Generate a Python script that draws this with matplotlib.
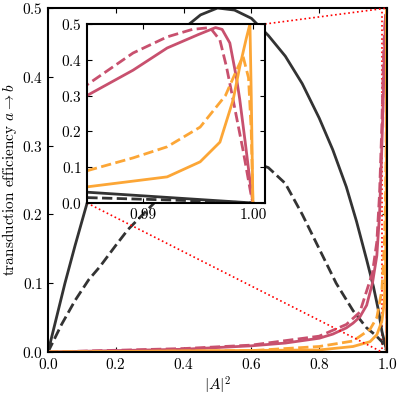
import matplotlib
matplotlib.use("Agg")
import matplotlib.pyplot as plt
from mpl_toolkits.axes_grid1.inset_locator import mark_inset

plt.rcParams['font.family'] = ['cmr10', 'DejaVu Serif']
plt.rcParams['mathtext.fontset'] = 'cm'
plt.rcParams['axes.formatter.use_mathtext'] = True
plt.rcParams['font.size'] = 11

bs_x = [0, .025, .05, .08, .115, .15, .2, .25, .3, .35, .4, .45, .5, .55, .6, .65, .7, .75, .8, .84, .88, .91, .94, .96, .975, .985, .995, 1.0]
bs_y = [0, .05, .1, .155, .216, .26, .315, .36, .40, .44, .47, .49, .5, .497, .485, .46, .43, .39, .34, .294, .24, .19, .134, .095, .06, .03, .01, 0]
bd_x = [0, .04, .08, .12, .153, .2, .236, .3, .35, .4, .45, .5, .55, .6, .65, .7, .75, .8, .85, .9, .94, .965, .985, .995, 1.0]
bd_y = [0, .04, .075, .105, .124, .155, .178, .21, .235, .252, .266, .275, .279, .277, .268, .245, .2, .15, .1, .06, .035, .025, .015, .006, 0]
ps_x = [0, .2, .4, .6, .7, .8, .84, .88, .9, .92, .94, .957, .97, .978, .9849, .9891, .9922, .995, .9966, .9972, .9979, .9985, .9988, .9993, .9997, 1.0]
ps_y = [0, .002, .004, .009, .013, .02, .026, .035, .042, .051, .068, .1, .14, .2, .30, .371, .433, .47, .49, .485, .447, .35, .29, .17, .07, 0]
pd_x = [0, .4, .6, .8, .88, .92, .957, .97, .978, .9849, .9891, .9922, .9945, .9961, .997, .9976, .9982, .9991, .99985, 1.0]
pd_y = [0, .005, .01, .023, .04, .058, .115, .16, .23, .33, .419, .464, .485, .49, .455, .38, .288, .148, .02, 0]
od_x = [0, .6, .8, .9, .95, .97, .9849, .9891, .9922, .9952, .9975, .9985, .9991, .9996, .99985, 1.0]
od_y = [0, .002, .008, .016, .033, .05, .09, .126, .157, .212, .3, .37, .41, .35, .2, 0]
os_x = [0, .8, .9, .95, .97, .9849, .9922, .9952, .997, .9982, .9988, .9994, .99973, .99985, 1.0]
os_y = [0, .003, .008, .015, .025, .045, .073, .115, .17, .288, .38, .46, .5, .3, 0]

black = '#333333'; pink = '#c8506e'; orange = '#fca636'
series = [(bs_x, bs_y, black, '-'), (bd_x, bd_y, black, '--'),
          (ps_x, ps_y, pink, '-'), (pd_x, pd_y, pink, '--'),
          (os_x, os_y, orange, '-'), (od_x, od_y, orange, '--')]

fig = plt.figure(figsize=(4, 4), dpi=100)
ax = fig.add_axes([0.12, 0.12, 0.8475, 0.86])
for x, y, c, ls in series:
    ax.plot(x, y, color=c, ls=ls, lw=2)
ax.set_xlim(0, 1)
ax.set_ylim(0, 0.5)
ax.set_xlabel(r'$|A|^2$', labelpad=2)
ax.set_ylabel(r'transduction efficiency $a\to b$', labelpad=2)
ax.tick_params(direction='in', top=True, right=True)

axins = fig.add_axes([0.2175, 0.4925, 0.445, 0.4475])
for x, y, c, ls in series:
    axins.plot(x, y, color=c, ls=ls, lw=2)
axins.set_xlim(0.98491, 1.0011)
axins.set_ylim(0, 0.5)
axins.set_xticks([0.99, 1.0])
axins.set_xticklabels(['0.99', '1.00'])
axins.set_yticks([0, .1, .2, .3, .4, .5])
axins.tick_params(direction='in', top=True, right=True)
for a in (ax, axins):
    for s in a.spines.values():
        s.set_linewidth(1.5)
mark_inset(ax, axins, loc1=1, loc2=3, ec='red', ls=':', lw=1.2, fc='none')
fig.savefig('out.png', dpi=100)
